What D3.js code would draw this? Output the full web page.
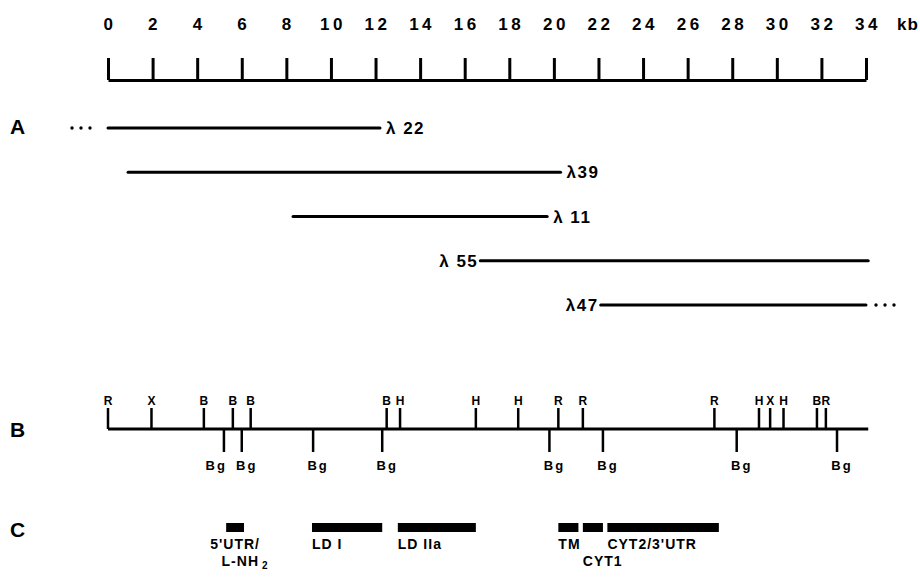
<!DOCTYPE html>
<html>
<head>
<meta charset="utf-8">
<script src="https://cdn.jsdelivr.net/npm/d3@7"></script>
<style>
  body { margin: 0; background: #fff; }
  text { font-family: "Liberation Sans", Arial, Helvetica, sans-serif; fill: #000; }
  .bold { font-weight: bold; }
</style>
</head>
<body>
<div id="chart"></div>
<script>
// kb scale ticks
var kbTicks = [0, 2, 4, 6, 8, 10, 12, 14, 16, 18, 20, 22, 24, 26, 28, 30, 32, 34];

// A: lambda clones (kb)
var clones = ["λ 22", "λ39", "λ 11", "λ 55", "λ47"];
var cloneStart = [0, 0.9, 8.3, 16.7, 22.1];
var cloneEnd = [12.2, 20.3, 19.7, 34.1, 34];
var cloneLabelSide = ["right", "right", "right", "left", "left"];
var cloneDots = ["left", "", "", "", "right"];

// B: restriction sites above the line (kb)
var siteNames = ["R", "X", "B", "B", "B", "B", "H", "H", "H", "R", "R", "R", "H", "X", "H", "B", "R"];
var sitePos = [0, 1.95, 4.3, 5.6, 6.4, 12.5, 13.1, 16.5, 18.4, 20.2, 21.3, 27.2, 29.2, 29.7, 30.3, 31.8, 32.2];
// Bg sites below the line (kb)
var bgPos = [5.2, 6.0, 9.2, 12.3, 19.8, 22.2, 28.2, 32.7];

// C: exon / domain blocks (kb)
var domains = ["5'UTR/", "LD I", "LD IIa", "TM", "CYT1", "CYT2/3'UTR"];
var domStart = [5.3, 9.15, 13.0, 20.2, 21.3, 22.4];
var domEnd = [6.1, 12.3, 16.5, 21.1, 22.2, 27.4];

var width = 920, height = 581;

var svg = d3.select("#chart").append("svg")
  .attr("width", width)
  .attr("height", height)
  .style("background", "#fff");

var x = d3.scaleLinear().domain([0, 34]).range([108, 866]);

// top kb axis
var axisY = 80;
var axis = svg.append("g")
  .attr("transform", "translate(0," + axisY + ")")
  .call(d3.axisTop(x).tickValues(kbTicks).tickSize(22).tickSizeOuter(0).tickPadding(28).tickFormat(d3.format("d")));
axis.select(".domain").attr("stroke", "#000").attr("stroke-width", 3);
axis.selectAll(".tick line").attr("stroke", "#000").attr("stroke-width", 3);
axis.selectAll(".tick text")
  .attr("class", "bold")
  .style("font-size", "17px")
  .style("letter-spacing", "3.5px")
  .attr("dx", "1.5px")
  .attr("fill", "#000");
svg.append("text").attr("class", "bold")
  .attr("x", 897).attr("y", 30)
  .style("font-size", "17px").style("letter-spacing", "1px")
  .text("kb");

// section letters
var sections = [["A", 134], ["B", 437], ["C", 537]];
svg.selectAll(".sec").data(sections).enter().append("text")
  .attr("class", "sec bold")
  .attr("x", 10).attr("y", function(d) { return d[1]; })
  .style("font-size", "21px")
  .text(function(d) { return d[0]; });

// A: clones
var yA = d3.scalePoint().domain(clones).range([128, 305]);
var gA = svg.append("g");
clones.forEach(function(c, i) {
  var y = yA(c);
  gA.append("line")
    .attr("x1", x(cloneStart[i])).attr("x2", x(cloneEnd[i]))
    .attr("y1", y).attr("y2", y)
    .attr("stroke", "#000").attr("stroke-width", 3).attr("stroke-linecap", "round");
  var right = cloneLabelSide[i] == "right";
  gA.append("text")
    .attr("class", "bold")
    .attr("x", right ? x(cloneEnd[i]) + 6 : x(cloneStart[i]) - 2)
    .attr("y", y + 6)
    .attr("text-anchor", right ? "start" : "end")
    .style("font-size", "17px")
    .style("letter-spacing", "1.5px")
    .text(c);
  if (cloneDots[i]) {
    var dx = cloneDots[i] == "left" ? x(cloneStart[i]) - 36 : x(cloneEnd[i]) + 10;
    gA.selectAll(".dot" + i).data([0, 1, 2]).enter().append("circle")
      .attr("cx", function(d) { return dx + d * 9; })
      .attr("cy", y)
      .attr("r", 1.7)
      .attr("fill", "#000");
  }
});

// B: restriction map
var yB = 429;
var gB = svg.append("g");
gB.append("line")
  .attr("x1", x(0)).attr("x2", x(34.1))
  .attr("y1", yB).attr("y2", yB)
  .attr("stroke", "#000").attr("stroke-width", 3);
sitePos.forEach(function(p, i) {
  gB.append("line")
    .attr("x1", x(p)).attr("x2", x(p))
    .attr("y1", yB).attr("y2", yB - 21)
    .attr("stroke", "#000").attr("stroke-width", 2.5);
  gB.append("text").attr("class", "bold")
    .attr("x", x(p)).attr("y", yB - 24)
    .attr("text-anchor", "middle")
    .style("font-size", "12px")
    .text(siteNames[i]);
});
bgPos.forEach(function(p, i) {
  gB.append("line")
    .attr("x1", x(p)).attr("x2", x(p))
    .attr("y1", yB).attr("y2", yB + 23)
    .attr("stroke", "#000").attr("stroke-width", 2.5);
  var crowded = i < bgPos.length - 1 && x(bgPos[i + 1]) - x(p) < 25;
  gB.append("text").attr("class", "bold")
    .attr("x", crowded ? x(p) + 3 : x(p) + 5)
    .attr("y", yB + 41)
    .attr("text-anchor", crowded ? "end" : "middle")
    .style("font-size", "13px")
    .style("letter-spacing", "2px")
    .text("Bg");
});

// C: domains
var gC = svg.append("g");
domains.forEach(function(d, i) {
  gC.append("rect")
    .attr("x", x(domStart[i])).attr("width", x(domEnd[i]) - x(domStart[i]))
    .attr("y", 523).attr("height", 9)
    .attr("fill", "#000");
});
domains.forEach(function(d, i) {
  var t = gC.append("text")
    .style("font-size", "14px")
    .style("font-weight", "600")
    .style("letter-spacing", "1px");
  if (i == 0) {
    var cx = (x(domStart[i]) + x(domEnd[i])) / 2;
    t.attr("x", cx).attr("y", 549).attr("text-anchor", "middle").text(d);
    var t2 = gC.append("text").style("font-size", "14px").style("font-weight", "600").style("letter-spacing", "1px")
      .attr("x", cx + 10).attr("y", 566).attr("text-anchor", "middle");
    t2.append("tspan").text("L-NH");
    t2.append("tspan").attr("dy", 3).attr("dx", 3).style("font-size", "10px").text("2");
  } else {
    t.attr("x", x(domStart[i]))
      .attr("y", d == "CYT1" ? 566 : 549)
      .text(d);
  }
});
</script>
</body>
</html>
